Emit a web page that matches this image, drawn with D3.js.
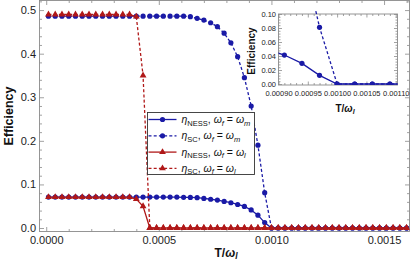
<!DOCTYPE html>
<html><head><meta charset="utf-8">
<script src="https://cdn.jsdelivr.net/npm/d3@7"></script>
<style>
body{margin:0;background:#fff}
svg{display:block}
text{font-family:"Liberation Sans",Arial,Helvetica,sans-serif}
</style>
</head><body>
<svg id="c" width="415" height="267"></svg>
<script>
// ---- data ----
const T = [0.00001,0.00004,0.00007,0.00010,0.00013,0.00016,0.00019,0.00022,0.00025,0.00028,
0.00031,0.00034,0.00037,0.00040,0.00043,0.00046,0.00049,0.00052,0.00055,0.00058,
0.00061,0.00064,0.00067,0.00070,0.00073,0.00076,0.00079,0.00082,0.00085,0.00088,
0.00091,0.00094,0.00097,0.00100,0.00103,0.00106,0.00109,0.00112,0.00115,0.00118,
0.00121,0.00124,0.00127,0.00130,0.00133,0.00136,0.00139,0.00142,0.00145,0.00148,
0.00151,0.00154,0.00157,0.00160];
const nessM = [0.071,0.071,0.071,0.071,0.071,0.071,0.071,0.071,0.071,0.071,
0.071,0.071,0.071,0.071,0.071,0.071,0.071,0.071,0.071,0.071,
0.0705,0.0702,0.0695,0.068,0.066,0.064,0.061,0.058,0.054,0.0495,
0.0414,0.0295,0.0124,0,0,0,0,0,0,0,
0,0,0,0,0,0,0,0,0,0,
0,0,0,0];
const scM = [0.486,0.486,0.486,0.486,0.486,0.486,0.486,0.486,0.486,0.486,
0.486,0.486,0.486,0.486,0.486,0.486,0.486,0.486,0.486,0.486,
0.486,0.485,0.481,0.477,0.471,0.462,0.447,0.425,0.393,0.345,
0.280,0.19,0.081,0,0,0,0,0,0,0,
0,0,0,0,0,0,0,0,0,0,
0,0,0,0];
const nessL = [0.071,0.071,0.071,0.071,0.071,0.071,0.071,0.071,0.071,0.071,
0.071,0.071,0.071,0.0665,0.05,0,0,0,0,0,
0,0,0,0,0,0,0,0,0,0,
0,0,0,0,0,0,0,0,0,0,
0,0,0,0,0,0,0,0,0,0,
0,0,0,0];
const scL = [0.49,0.49,0.49,0.49,0.49,0.49,0.49,0.49,0.49,0.49,
0.49,0.49,0.49,0.485,0.35,0,0,0,0,0,
0,0,0,0,0,0,0,0,0,0,
0,0,0,0,0,0,0,0,0,0,
0,0,0,0,0,0,0,0,0,0,
0,0,0,0];
const xMajor = [0, 0.0005, 0.0010, 0.0015];
const yMajor = [0, 0.1, 0.2, 0.3, 0.4, 0.5];
const insetXMajor = [0.00090, 0.00095, 0.00100, 0.00105, 0.00110];
const insetYMajor = [0, 0.02, 0.04, 0.06, 0.08, 0.10];

const BLUE = "#1a1aa6", RED = "#b01818";
const series = [
  {v: nessM, color: BLUE, dash: null, sym: "circle"},
  {v: scM, color: BLUE, dash: "3,2.2", sym: "circle"},
  {v: nessL, color: RED, dash: null, sym: "triangle"},
  {v: scL, color: RED, dash: "3,2.2", sym: "triangle"}
];

const svg = d3.select("#c");
const FRAME = "#8a8a8a", LABEL = "#222";

function frame(g, x, y, box, o) {
  g.append("rect").attr("x", box.l).attr("y", box.t).attr("width", box.r - box.l)
    .attr("height", box.b - box.t).attr("fill", "#fff");
  const mk = (axisFn, scale, vals, size, fmt, pad, tr, fs) => {
    const a = axisFn(scale).tickValues(vals).tickSize(size).tickPadding(pad)
      .tickFormat(fmt || (() => ""));
    const gg = g.append("g").attr("transform", tr).call(a);
    gg.select(".domain").remove();
    gg.selectAll("line").attr("stroke", FRAME).attr("stroke-width", 0.8);
    gg.selectAll("text").attr("fill", LABEL).style("font-family", '"Liberation Sans",Arial,sans-serif')
      .attr("font-size", fs);
    return gg;
  };
  const xr = x.domain(), yr = y.domain();
  const xm = o.xMinor.filter(v => v >= xr[0] && v <= xr[1]);
  const ym = o.yMinor.filter(v => v >= yr[0] && v <= yr[1]);
  mk(d3.axisBottom, x, o.xMajor, -o.maj, o.xFmt, o.xPad, `translate(0,${box.b})`, o.fs);
  mk(d3.axisBottom, x, xm, -o.min, null, 0, `translate(0,${box.b})`, o.fs);
  mk(d3.axisTop, x, o.xMajor, -o.maj, null, 0, `translate(0,${box.t})`, o.fs);
  mk(d3.axisTop, x, xm, -o.min, null, 0, `translate(0,${box.t})`, o.fs);
  mk(d3.axisLeft, y, o.yMajor, -o.maj, o.yFmt, o.yPad, `translate(${box.l},0)`, o.fs);
  mk(d3.axisLeft, y, ym, -o.min, null, 0, `translate(${box.l},0)`, o.fs);
  mk(d3.axisRight, y, o.yMajor, -o.maj, null, 0, `translate(${box.r},0)`, o.fs);
  mk(d3.axisRight, y, ym, -o.min, null, 0, `translate(${box.r},0)`, o.fs);
  g.append("rect").attr("x", box.l).attr("y", box.t).attr("width", box.r - box.l)
    .attr("height", box.b - box.t).attr("fill", "none").attr("stroke", FRAME).attr("stroke-width", 0.9);
}

function drawSeries(g, x, y, list, clipId, box, r, triSize, lw) {
  g.append("clipPath").attr("id", clipId).append("rect")
    .attr("x", box.l).attr("y", box.t - 3).attr("width", box.r - box.l).attr("height", box.b - box.t + 3);
  const cg = g.append("g").attr("clip-path", `url(#${clipId})`);
  const line = d3.line().x(d => x(d[0])).y(d => y(d[1]));
  const xd = x.domain();
  list.forEach(s => {
    const pts = T.map((t, i) => [t, s.v[i]]);
    cg.append("path").attr("d", line(pts)).attr("fill", "none").attr("stroke", s.color)
      .attr("stroke-width", lw).attr("stroke-dasharray", s.dash);
    const vis = pts.filter(p => p[0] >= xd[0] && p[0] <= xd[1] + 1e-9);
    if (s.sym === "circle") {
      cg.selectAll(null).data(vis).enter().append("circle")
        .attr("cx", d => x(d[0])).attr("cy", d => y(d[1])).attr("r", r).attr("fill", s.color);
    } else {
      const sym = d3.symbol().type(d3.symbolTriangle).size(triSize);
      cg.selectAll(null).data(vis).enter().append("path").attr("d", sym)
        .attr("transform", d => `translate(${x(d[0])},${y(d[1])})`).attr("fill", s.color);
    }
  });
}

// ---- main plot ----
const box = {l: 39.5, r: 409.5, t: 0.5, b: 231.5};
const x = d3.scaleLinear().domain([-0.0000298, 0.001613]).range([box.l, box.r]);
const y = d3.scaleLinear().domain([-0.008, 0.522]).range([box.b, box.t]);
const main = svg.append("g");
frame(main, x, y, box, {
  xMajor, yMajor,
  xMinor: d3.range(0, 17).map(i => i * 0.0001).filter((v, i) => i % 5 !== 0),
  yMinor: d3.range(0, 27).map(i => i * 0.02).filter((v, i) => i % 5 !== 0),
  maj: 4.5, min: 2.5, fs: 11, xPad: 5, yPad: 3.5,
  xFmt: d3.format(".4f"), yFmt: d3.format(".1f")
});
drawSeries(main, x, y, series, "clipMain", box, 2.6, 20, 1.3);

svg.append("text").attr("transform", "translate(12.5,116) rotate(-90)")
  .attr("text-anchor", "middle").attr("font-size", 12.5).attr("font-weight", "bold").attr("fill", "#111")
  .text("Efficiency");
const xt = svg.append("text").attr("x", 226).attr("y", 256.5).attr("text-anchor", "middle")
  .attr("font-size", 12).attr("font-weight", "bold").attr("fill", "#111");
xt.append("tspan").text("T/");
xt.append("tspan").attr("font-style", "italic").text("ω");
xt.append("tspan").attr("font-style", "italic").attr("font-size", 8.5).attr("dy", 2.5).text("l");

// ---- legend ----
const lg = svg.append("g");
lg.append("rect").attr("x", 147.5).attr("y", 112.5).attr("width", 107).attr("height", 62)
  .attr("fill", "#fff").attr("stroke", "#333").attr("stroke-width", 0.9);
const legendRows = [
  {s: series[0], sub: "NESS", w: "m"},
  {s: series[1], sub: "SC", w: "m"},
  {s: series[2], sub: "NESS", w: "l"},
  {s: series[3], sub: "SC", w: "l"}
];
const rowY = [119.5, 135.8, 152.1, 168.4];
legendRows.forEach((r, i) => {
  const yy = rowY[i];
  lg.append("line").attr("x1", 148.5).attr("x2", 176.5).attr("y1", yy).attr("y2", yy)
    .attr("stroke", r.s.color).attr("stroke-width", 1.3).attr("stroke-dasharray", r.s.dash);
  if (r.s.sym === "circle") {
    lg.append("circle").attr("cx", 162.5).attr("cy", yy).attr("r", 2.6).attr("fill", r.s.color);
  } else {
    lg.append("path").attr("d", d3.symbol().type(d3.symbolTriangle).size(20))
      .attr("transform", `translate(162.5,${yy})`).attr("fill", r.s.color);
  }
  const t = lg.append("text").attr("x", 181.5).attr("y", yy + 3.5).attr("font-size", 10.5).attr("fill", "#111");
  t.append("tspan").attr("font-style", "italic").text("η");
  t.append("tspan").attr("font-size", 7.5).attr("dy", 2.5).text(r.sub);
  t.append("tspan").attr("dy", -2.5).text(", ");
  t.append("tspan").attr("font-style", "italic").text("ω");
  t.append("tspan").attr("font-style", "italic").attr("font-size", 7.5).attr("dy", 2.5).text("f");
  t.append("tspan").attr("dy", -2.5).text(" = ");
  t.append("tspan").attr("font-style", "italic").text("ω");
  t.append("tspan").attr("font-style", "italic").attr("font-size", 7.5).attr("dy", 2.5).text(r.w);
});

// ---- inset ----
const ibox = {l: 278.5, r: 397.5, t: 14, b: 85};
const ix = d3.scaleLinear().domain([0.0009, 0.001103]).range([ibox.l, ibox.r]);
const iy = d3.scaleLinear().domain([-0.0014, 0.1]).range([ibox.b, ibox.t]);
const ins = svg.append("g");
frame(ins, ix, iy, ibox, {
  xMajor: insetXMajor, yMajor: insetYMajor,
  xMinor: d3.range(90, 111).map(i => i * 0.00001).filter((v, i) => i % 5 !== 0),
  yMinor: d3.range(0, 26).map(i => i * 0.004).filter((v, i) => i % 5 !== 0),
  maj: 3.5, min: 2, fs: 7.5, xPad: 6, yPad: 2.5,
  xFmt: d3.format(".5f"), yFmt: d3.format(".2f")
});
drawSeries(ins, ix, iy, [series[0], series[1]], "clipInset", ibox, 2.6, 20, 1.3);
svg.append("text").attr("transform", "translate(254.5,51) rotate(-90)")
  .attr("text-anchor", "middle").attr("font-size", 10).attr("font-weight", "bold").attr("fill", "#111")
  .text("Efficiency");
const it = svg.append("text").attr("x", 345).attr("y", 111.5).attr("text-anchor", "middle")
  .attr("font-size", 10).attr("font-weight", "bold").attr("fill", "#111");
it.append("tspan").text("T/");
it.append("tspan").attr("font-style", "italic").text("ω");
it.append("tspan").attr("font-style", "italic").attr("font-size", 7).attr("dy", 2).text("l");
</script>
</body></html>
